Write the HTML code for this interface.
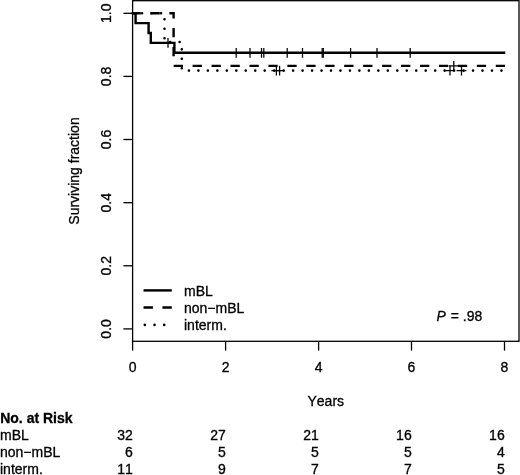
<!DOCTYPE html><html><head><meta charset="utf-8"><title>Survival</title>
<style>html,body{margin:0;padding:0;background:#fff}svg{display:block}text{font-family:"Liberation Sans",Arial,Helvetica,sans-serif;font-size:14px;fill:#000;font-kerning:none;stroke:#000;stroke-width:0.3px}</style></head><body>
<svg width="520" height="475" viewBox="0 0 520 475">
<rect width="520" height="475" fill="#fff"/>
<g stroke="#000" stroke-width="1.3" fill="none">
<rect x="132.6" y="0.7" width="386.4" height="340.6"/>
<line x1="123.4" x2="132.6" y1="328.9" y2="328.9"/>
<line x1="123.4" x2="132.6" y1="265.8" y2="265.8"/>
<line x1="123.4" x2="132.6" y1="202.7" y2="202.7"/>
<line x1="123.4" x2="132.6" y1="139.5" y2="139.5"/>
<line x1="123.4" x2="132.6" y1="76.4" y2="76.4"/>
<line x1="123.4" x2="132.6" y1="13.3" y2="13.3"/>
<line x1="132.6" x2="132.6" y1="341.3" y2="350.6"/>
<line x1="225.6" x2="225.6" y1="341.3" y2="350.6"/>
<line x1="318.6" x2="318.6" y1="341.3" y2="350.6"/>
<line x1="411.5" x2="411.5" y1="341.3" y2="350.6"/>
<line x1="504.5" x2="504.5" y1="341.3" y2="350.6"/>
</g>
<text transform="translate(111.1,328.9) rotate(-90)" text-anchor="middle">0.0</text>
<text transform="translate(111.1,265.8) rotate(-90)" text-anchor="middle">0.2</text>
<text transform="translate(111.1,202.7) rotate(-90)" text-anchor="middle">0.4</text>
<text transform="translate(111.1,139.5) rotate(-90)" text-anchor="middle">0.6</text>
<text transform="translate(111.1,76.4) rotate(-90)" text-anchor="middle">0.8</text>
<text transform="translate(111.1,13.3) rotate(-90)" text-anchor="middle">1.0</text>
<text x="132.6" y="372.3" text-anchor="middle">0</text>
<text x="225.6" y="372.3" text-anchor="middle">2</text>
<text x="318.6" y="372.3" text-anchor="middle">4</text>
<text x="411.5" y="372.3" text-anchor="middle">6</text>
<text x="504.5" y="372.3" text-anchor="middle">8</text>
<text transform="translate(78.6,171) rotate(-90)" text-anchor="middle">Surviving fraction</text>
<text x="325.8" y="406.1" text-anchor="middle">Years</text>
<g fill="none" stroke="#000" stroke-width="2.4">
<path d="M132.6,13.3 H135.6 V23.1 H148.6 V33 H150.8 V42.9 H174.4 V52.8 H505.3" stroke-linejoin="miter"/>
<path d="M132.6,13.3 H173.6 V65.9 H505" stroke-dasharray="9.3 9.65" stroke-dashoffset="1.1"/>
<path d="M132.6,13.3 H164.5 V42 H181.8 V70.6 H505" stroke-width="2.6" stroke-linecap="round" stroke-dasharray="0.01 9.46"/>
</g>
<g stroke="#000" stroke-width="1.25" fill="none">
<path d="M168.0,38.0 V47.8 M163.1,42.9 H172.9"/>
<path d="M236.2,47.9 V57.7 M231.3,52.8 H241.1"/>
<path d="M250.0,47.9 V57.7 M245.1,52.8 H254.9"/>
<path d="M261.5,47.9 V57.7 M256.6,52.8 H266.4"/>
<path d="M263.8,47.9 V57.7 M258.9,52.8 H268.7"/>
<path d="M287.2,47.9 V57.7 M282.3,52.8 H292.1"/>
<path d="M302.5,47.9 V57.7 M297.6,52.8 H307.4"/>
<path d="M322.2,47.9 V57.7 M317.3,52.8 H327.1"/>
<path d="M323.3,47.9 V57.7 M318.4,52.8 H328.2"/>
<path d="M350.6,47.9 V57.7 M345.7,52.8 H355.5"/>
<path d="M377.0,47.9 V57.7 M372.1,52.8 H381.9"/>
<path d="M410.2,47.9 V57.7 M405.3,52.8 H415.1"/>
<path d="M453.8,61.0 V70.8 M448.9,65.9 H458.7"/>
<path d="M276.4,65.7 V75.5 M271.5,70.6 H281.3"/>
<path d="M279.6,65.7 V75.5 M274.7,70.6 H284.5"/>
<path d="M450.0,65.7 V75.5 M445.1,70.6 H454.9"/>
<path d="M461.5,65.7 V75.5 M456.6,70.6 H466.4"/>
</g>
<g fill="none" stroke="#000" stroke-width="2.4">
<path d="M143.5,290.4 H171.8"/>
<path d="M143.5,307.5 H171.8" stroke-dasharray="9.4 9.5"/>
<path d="M144.8,324.9 H171.8" stroke-width="2.6" stroke-linecap="round" stroke-dasharray="0.01 9.7"/>
</g>
<text x="184" y="295.7">mBL</text>
<text x="184" y="312.7">non−mBL</text>
<text x="184" y="329.9">interm.</text>
<text x="436.5" y="321.4" font-style="italic">P</text>
<text x="450.7" y="321.4">= .98</text>
<text x="0.2" y="422.5" font-weight="bold">No. at Risk</text>
<text x="0" y="439.7">mBL</text>
<text x="132.8" y="439.7" text-anchor="end">32</text>
<text x="225.8" y="439.7" text-anchor="end">27</text>
<text x="318.8" y="439.7" text-anchor="end">21</text>
<text x="411.7" y="439.7" text-anchor="end">16</text>
<text x="504.7" y="439.7" text-anchor="end">16</text>
<text x="0" y="456.9">non−mBL</text>
<text x="132.8" y="456.9" text-anchor="end">6</text>
<text x="225.8" y="456.9" text-anchor="end">5</text>
<text x="318.8" y="456.9" text-anchor="end">5</text>
<text x="411.7" y="456.9" text-anchor="end">5</text>
<text x="504.7" y="456.9" text-anchor="end">4</text>
<text x="0" y="473.9">interm.</text>
<text x="132.8" y="473.9" text-anchor="end">11</text>
<text x="225.8" y="473.9" text-anchor="end">9</text>
<text x="318.8" y="473.9" text-anchor="end">7</text>
<text x="411.7" y="473.9" text-anchor="end">7</text>
<text x="504.7" y="473.9" text-anchor="end">5</text>
</svg></body></html>
